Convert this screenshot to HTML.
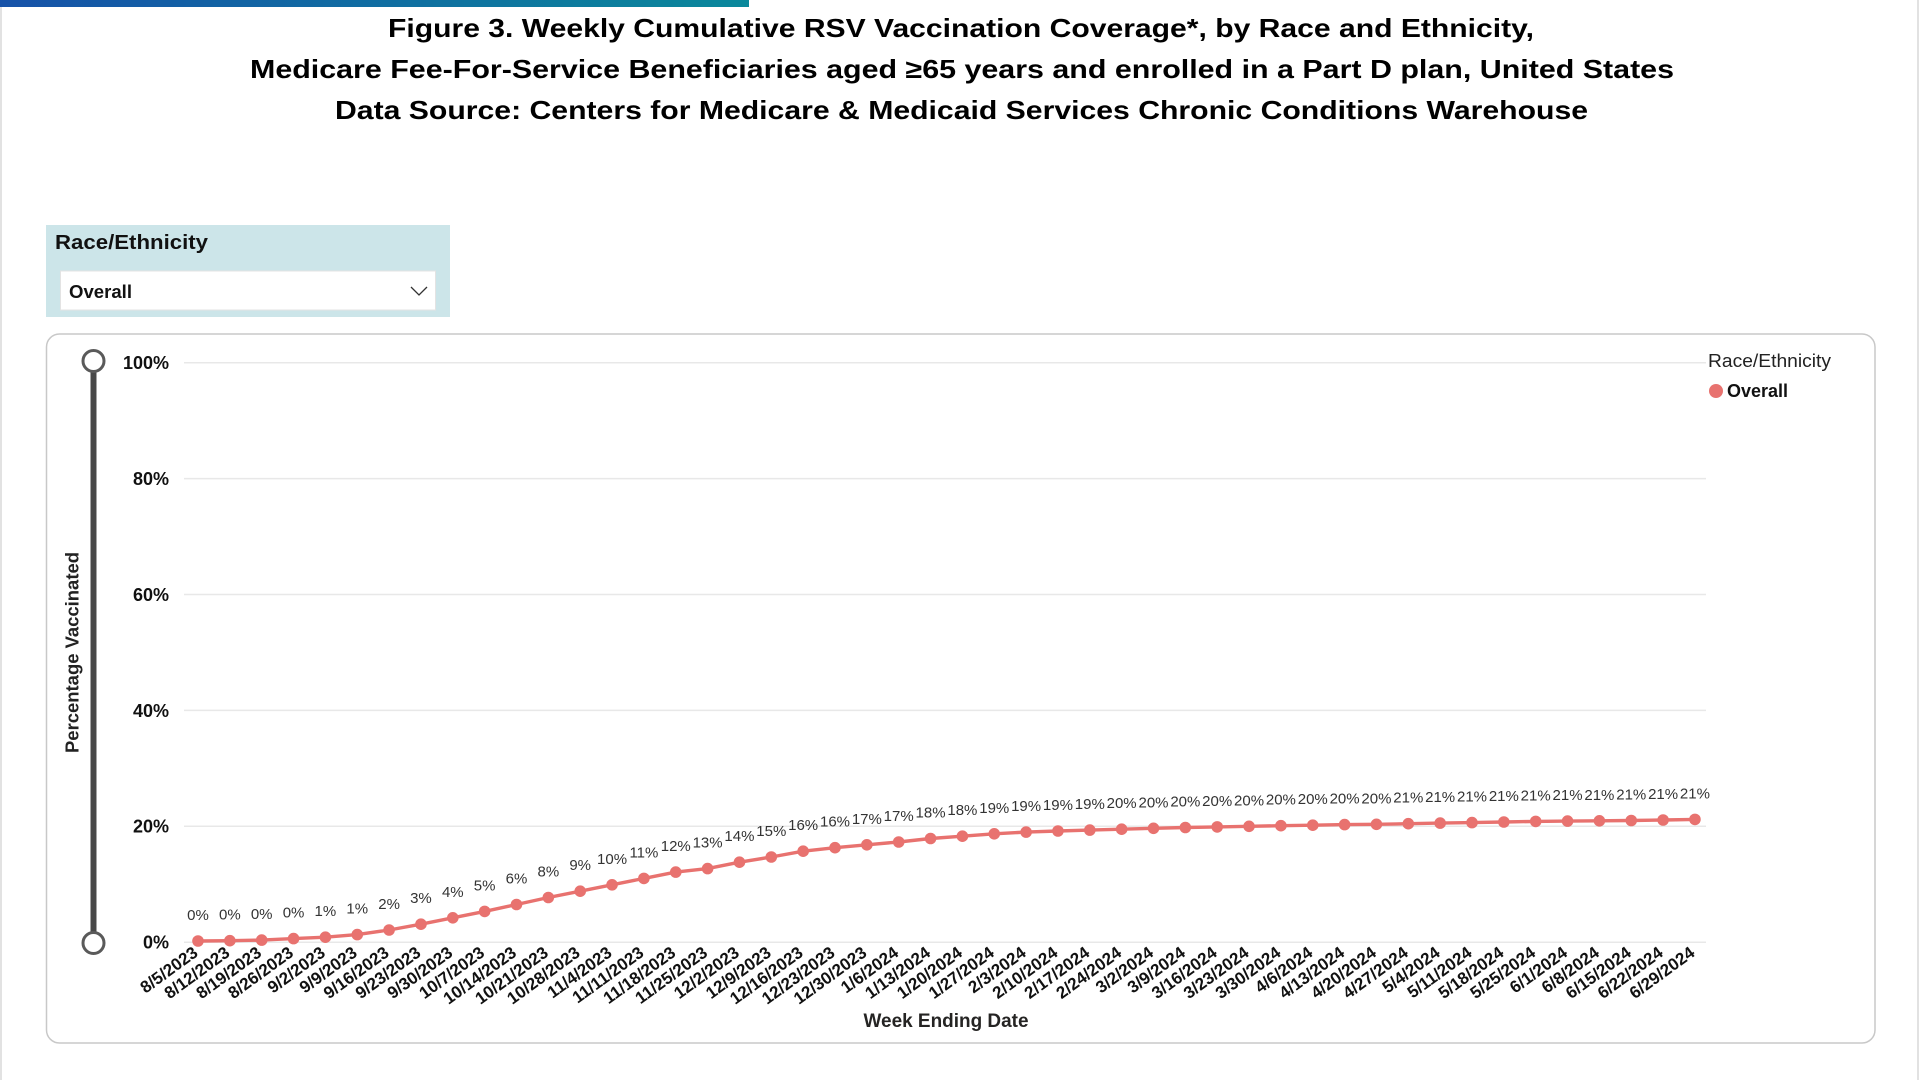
<!DOCTYPE html>
<html>
<head>
<meta charset="utf-8">
<style>
html,body{margin:0;padding:0;background:#fff;}
body{width:1920px;height:1080px;overflow:hidden;}
svg{display:block;font-family:"Liberation Sans",Arial,sans-serif;}
.dl{font-size:15px;fill:#333;text-anchor:middle;}
.xl{font-size:17px;font-weight:bold;fill:#111;text-anchor:end;}
.yl{font-size:18px;font-weight:bold;fill:#111;text-anchor:end;}
.tt{font-size:26px;font-weight:bold;fill:#000;text-anchor:middle;}
</style>
</head>
<body>
<svg width="1920" height="1080" viewBox="0 0 1920 1080" xmlns="http://www.w3.org/2000/svg">
<defs>
<linearGradient id="bar" x1="0" y1="0" x2="1" y2="0">
<stop offset="0" stop-color="#1652a8"/>
<stop offset="1" stop-color="#0a889b"/>
</linearGradient>
</defs>
<rect x="0" y="0" width="1920" height="1080" fill="#fff"/>
<rect x="0" y="0" width="749" height="7" fill="url(#bar)"/>
<line x1="1" y1="7" x2="1" y2="1080" stroke="#d8d8d8" stroke-width="1.5"/>
<line x1="1918" y1="0" x2="1918" y2="1080" stroke="#d8d8d8" stroke-width="1.5"/>

<text class="tt" x="961" y="37" textLength="1146" lengthAdjust="spacingAndGlyphs">Figure 3. Weekly Cumulative RSV Vaccination Coverage*, by Race and Ethnicity,</text>
<text class="tt" x="962" y="78" textLength="1424" lengthAdjust="spacingAndGlyphs">Medicare Fee-For-Service Beneficiaries aged ≥65 years and enrolled in a Part D plan, United States</text>
<text class="tt" x="961.5" y="119" textLength="1253" lengthAdjust="spacingAndGlyphs">Data Source: Centers for Medicare &amp; Medicaid Services Chronic Conditions Warehouse</text>

<rect x="46" y="225" width="404" height="92" fill="#cce5e9"/>
<text x="55" y="249" font-size="20" font-weight="bold" fill="#111" textLength="153" lengthAdjust="spacingAndGlyphs">Race/Ethnicity</text>
<rect x="60.5" y="271" width="375" height="39" fill="#fff" stroke="#e3e3e3" stroke-width="1"/>
<text x="69" y="298" font-size="18" font-weight="bold" fill="#111" textLength="63" lengthAdjust="spacingAndGlyphs">Overall</text>
<polyline points="411,287 419,295 427,287" fill="none" stroke="#333" stroke-width="1.3"/>

<rect x="46.5" y="334" width="1828.5" height="709" rx="13" ry="13" fill="#fff" stroke="#c8c8c8" stroke-width="1.5"/>

<g stroke="#e8e8e8" stroke-width="1.5">
<line x1="184" y1="362.7" x2="1706" y2="362.7"/>
<line x1="184" y1="478.6" x2="1706" y2="478.6"/>
<line x1="184" y1="594.5" x2="1706" y2="594.5"/>
<line x1="184" y1="710.4" x2="1706" y2="710.4"/>
<line x1="184" y1="826.3" x2="1706" y2="826.3"/>
<line x1="184" y1="942.2" x2="1706" y2="942.2"/>
</g>

<text class="yl" x="169" y="369">100%</text>
<text class="yl" x="169" y="485">80%</text>
<text class="yl" x="169" y="601">60%</text>
<text class="yl" x="169" y="717">40%</text>
<text class="yl" x="169" y="832.5">20%</text>
<text class="yl" x="169" y="948.5">0%</text>

<line x1="93.5" y1="368" x2="93.5" y2="936" stroke="#484848" stroke-width="6"/>
<circle cx="93.5" cy="361" r="10.5" fill="#fff" stroke="#5a5a5a" stroke-width="3"/>
<circle cx="93.5" cy="943" r="10.5" fill="#fff" stroke="#5a5a5a" stroke-width="3"/>

<text transform="translate(78.5,652.5) rotate(-90)" text-anchor="middle" font-size="18" font-weight="bold" fill="#222" textLength="201" lengthAdjust="spacingAndGlyphs">Percentage Vaccinated</text>

<text x="946" y="1027" text-anchor="middle" font-size="19" font-weight="bold" fill="#252423" textLength="165" lengthAdjust="spacingAndGlyphs">Week Ending Date</text>

<text x="1708" y="367" font-size="18" fill="#222" textLength="123" lengthAdjust="spacingAndGlyphs">Race/Ethnicity</text>
<circle cx="1716" cy="391" r="7" fill="#e8726f"/>
<text x="1727" y="397" font-size="18" font-weight="bold" fill="#111" textLength="61" lengthAdjust="spacingAndGlyphs">Overall</text>

<polyline fill="none" stroke="#e8726f" stroke-width="3.4" stroke-linejoin="round" points="198,941 229.85,940.7 261.7,940.1 293.55,938.6 325.4,937.2 357.25,934.6 389.1,930 420.95,924.2 452.8,917.8 484.65,911.4 516.5,904.5 548.35,897.5 580.2,891.2 612.05,884.8 643.9,878.4 675.75,872.1 707.6,868.6 739.45,862.2 771.3,857 803.15,851.2 835,847.7 866.85,844.8 898.7,842 930.55,838.5 962.4,836.2 994.25,833.8 1026.1,832.1 1057.95,831 1089.8,830.1 1121.65,829.2 1153.5,828.3 1185.35,827.5 1217.2,826.9 1249.05,826.3 1280.9,825.7 1312.75,825.2 1344.6,824.6 1376.45,824.3 1408.3,823.7 1440.15,823.1 1472,822.6 1503.85,822 1535.7,821.4 1567.55,821.1 1599.4,820.8 1631.25,820.5 1663.1,820 1694.95,819.4"/>

<g fill="#e8726f">
<circle cx="198" cy="941" r="5.8"/>
<circle cx="229.85" cy="940.7" r="5.8"/>
<circle cx="261.7" cy="940.1" r="5.8"/>
<circle cx="293.55" cy="938.6" r="5.8"/>
<circle cx="325.4" cy="937.2" r="5.8"/>
<circle cx="357.25" cy="934.6" r="5.8"/>
<circle cx="389.1" cy="930" r="5.8"/>
<circle cx="420.95" cy="924.2" r="5.8"/>
<circle cx="452.8" cy="917.8" r="5.8"/>
<circle cx="484.65" cy="911.4" r="5.8"/>
<circle cx="516.5" cy="904.5" r="5.8"/>
<circle cx="548.35" cy="897.5" r="5.8"/>
<circle cx="580.2" cy="891.2" r="5.8"/>
<circle cx="612.05" cy="884.8" r="5.8"/>
<circle cx="643.9" cy="878.4" r="5.8"/>
<circle cx="675.75" cy="872.1" r="5.8"/>
<circle cx="707.6" cy="868.6" r="5.8"/>
<circle cx="739.45" cy="862.2" r="5.8"/>
<circle cx="771.3" cy="857" r="5.8"/>
<circle cx="803.15" cy="851.2" r="5.8"/>
<circle cx="835" cy="847.7" r="5.8"/>
<circle cx="866.85" cy="844.8" r="5.8"/>
<circle cx="898.7" cy="842" r="5.8"/>
<circle cx="930.55" cy="838.5" r="5.8"/>
<circle cx="962.4" cy="836.2" r="5.8"/>
<circle cx="994.25" cy="833.8" r="5.8"/>
<circle cx="1026.1" cy="832.1" r="5.8"/>
<circle cx="1057.95" cy="831" r="5.8"/>
<circle cx="1089.8" cy="830.1" r="5.8"/>
<circle cx="1121.65" cy="829.2" r="5.8"/>
<circle cx="1153.5" cy="828.3" r="5.8"/>
<circle cx="1185.35" cy="827.5" r="5.8"/>
<circle cx="1217.2" cy="826.9" r="5.8"/>
<circle cx="1249.05" cy="826.3" r="5.8"/>
<circle cx="1280.9" cy="825.7" r="5.8"/>
<circle cx="1312.75" cy="825.2" r="5.8"/>
<circle cx="1344.6" cy="824.6" r="5.8"/>
<circle cx="1376.45" cy="824.3" r="5.8"/>
<circle cx="1408.3" cy="823.7" r="5.8"/>
<circle cx="1440.15" cy="823.1" r="5.8"/>
<circle cx="1472" cy="822.6" r="5.8"/>
<circle cx="1503.85" cy="822" r="5.8"/>
<circle cx="1535.7" cy="821.4" r="5.8"/>
<circle cx="1567.55" cy="821.1" r="5.8"/>
<circle cx="1599.4" cy="820.8" r="5.8"/>
<circle cx="1631.25" cy="820.5" r="5.8"/>
<circle cx="1663.1" cy="820" r="5.8"/>
<circle cx="1694.95" cy="819.4" r="5.8"/>
</g>

<text class="dl" x="198" y="920">0%</text>
<text class="dl" x="229.85" y="919.7">0%</text>
<text class="dl" x="261.7" y="919.1">0%</text>
<text class="dl" x="293.55" y="917.6">0%</text>
<text class="dl" x="325.4" y="916.2">1%</text>
<text class="dl" x="357.25" y="913.6">1%</text>
<text class="dl" x="389.1" y="909">2%</text>
<text class="dl" x="420.95" y="903.2">3%</text>
<text class="dl" x="452.8" y="896.8">4%</text>
<text class="dl" x="484.65" y="890.4">5%</text>
<text class="dl" x="516.5" y="883.5">6%</text>
<text class="dl" x="548.35" y="876.5">8%</text>
<text class="dl" x="580.2" y="870.2">9%</text>
<text class="dl" x="612.05" y="863.8">10%</text>
<text class="dl" x="643.9" y="857.4">11%</text>
<text class="dl" x="675.75" y="851.1">12%</text>
<text class="dl" x="707.6" y="847.6">13%</text>
<text class="dl" x="739.45" y="841.2">14%</text>
<text class="dl" x="771.3" y="836">15%</text>
<text class="dl" x="803.15" y="830.2">16%</text>
<text class="dl" x="835" y="826.7">16%</text>
<text class="dl" x="866.85" y="823.8">17%</text>
<text class="dl" x="898.7" y="821">17%</text>
<text class="dl" x="930.55" y="817.5">18%</text>
<text class="dl" x="962.4" y="815.2">18%</text>
<text class="dl" x="994.25" y="812.8">19%</text>
<text class="dl" x="1026.1" y="811.1">19%</text>
<text class="dl" x="1057.95" y="810">19%</text>
<text class="dl" x="1089.8" y="809.1">19%</text>
<text class="dl" x="1121.65" y="808.2">20%</text>
<text class="dl" x="1153.5" y="807.3">20%</text>
<text class="dl" x="1185.35" y="806.5">20%</text>
<text class="dl" x="1217.2" y="805.9">20%</text>
<text class="dl" x="1249.05" y="805.3">20%</text>
<text class="dl" x="1280.9" y="804.7">20%</text>
<text class="dl" x="1312.75" y="804.2">20%</text>
<text class="dl" x="1344.6" y="803.6">20%</text>
<text class="dl" x="1376.45" y="803.3">20%</text>
<text class="dl" x="1408.3" y="802.7">21%</text>
<text class="dl" x="1440.15" y="802.1">21%</text>
<text class="dl" x="1472" y="801.6">21%</text>
<text class="dl" x="1503.85" y="801">21%</text>
<text class="dl" x="1535.7" y="800.4">21%</text>
<text class="dl" x="1567.55" y="800.1">21%</text>
<text class="dl" x="1599.4" y="799.8">21%</text>
<text class="dl" x="1631.25" y="799.5">21%</text>
<text class="dl" x="1663.1" y="799">21%</text>
<text class="dl" x="1694.95" y="798.4">21%</text>

<g>
<text class="xl" transform="translate(199,955) rotate(-36)">8/5/2023</text>
<text class="xl" transform="translate(230.85,955) rotate(-36)">8/12/2023</text>
<text class="xl" transform="translate(262.7,955) rotate(-36)">8/19/2023</text>
<text class="xl" transform="translate(294.55,955) rotate(-36)">8/26/2023</text>
<text class="xl" transform="translate(326.4,955) rotate(-36)">9/2/2023</text>
<text class="xl" transform="translate(358.25,955) rotate(-36)">9/9/2023</text>
<text class="xl" transform="translate(390.1,955) rotate(-36)">9/16/2023</text>
<text class="xl" transform="translate(421.95,955) rotate(-36)">9/23/2023</text>
<text class="xl" transform="translate(453.8,955) rotate(-36)">9/30/2023</text>
<text class="xl" transform="translate(485.65,955) rotate(-36)">10/7/2023</text>
<text class="xl" transform="translate(517.5,955) rotate(-36)">10/14/2023</text>
<text class="xl" transform="translate(549.35,955) rotate(-36)">10/21/2023</text>
<text class="xl" transform="translate(581.2,955) rotate(-36)">10/28/2023</text>
<text class="xl" transform="translate(613.05,955) rotate(-36)">11/4/2023</text>
<text class="xl" transform="translate(644.9,955) rotate(-36)">11/11/2023</text>
<text class="xl" transform="translate(676.75,955) rotate(-36)">11/18/2023</text>
<text class="xl" transform="translate(708.6,955) rotate(-36)">11/25/2023</text>
<text class="xl" transform="translate(740.45,955) rotate(-36)">12/2/2023</text>
<text class="xl" transform="translate(772.3,955) rotate(-36)">12/9/2023</text>
<text class="xl" transform="translate(804.15,955) rotate(-36)">12/16/2023</text>
<text class="xl" transform="translate(836,955) rotate(-36)">12/23/2023</text>
<text class="xl" transform="translate(867.85,955) rotate(-36)">12/30/2023</text>
<text class="xl" transform="translate(899.7,955) rotate(-36)">1/6/2024</text>
<text class="xl" transform="translate(931.55,955) rotate(-36)">1/13/2024</text>
<text class="xl" transform="translate(963.4,955) rotate(-36)">1/20/2024</text>
<text class="xl" transform="translate(995.25,955) rotate(-36)">1/27/2024</text>
<text class="xl" transform="translate(1027.1,955) rotate(-36)">2/3/2024</text>
<text class="xl" transform="translate(1058.95,955) rotate(-36)">2/10/2024</text>
<text class="xl" transform="translate(1090.8,955) rotate(-36)">2/17/2024</text>
<text class="xl" transform="translate(1122.65,955) rotate(-36)">2/24/2024</text>
<text class="xl" transform="translate(1154.5,955) rotate(-36)">3/2/2024</text>
<text class="xl" transform="translate(1186.35,955) rotate(-36)">3/9/2024</text>
<text class="xl" transform="translate(1218.2,955) rotate(-36)">3/16/2024</text>
<text class="xl" transform="translate(1250.05,955) rotate(-36)">3/23/2024</text>
<text class="xl" transform="translate(1281.9,955) rotate(-36)">3/30/2024</text>
<text class="xl" transform="translate(1313.75,955) rotate(-36)">4/6/2024</text>
<text class="xl" transform="translate(1345.6,955) rotate(-36)">4/13/2024</text>
<text class="xl" transform="translate(1377.45,955) rotate(-36)">4/20/2024</text>
<text class="xl" transform="translate(1409.3,955) rotate(-36)">4/27/2024</text>
<text class="xl" transform="translate(1441.15,955) rotate(-36)">5/4/2024</text>
<text class="xl" transform="translate(1473,955) rotate(-36)">5/11/2024</text>
<text class="xl" transform="translate(1504.85,955) rotate(-36)">5/18/2024</text>
<text class="xl" transform="translate(1536.7,955) rotate(-36)">5/25/2024</text>
<text class="xl" transform="translate(1568.55,955) rotate(-36)">6/1/2024</text>
<text class="xl" transform="translate(1600.4,955) rotate(-36)">6/8/2024</text>
<text class="xl" transform="translate(1632.25,955) rotate(-36)">6/15/2024</text>
<text class="xl" transform="translate(1664.1,955) rotate(-36)">6/22/2024</text>
<text class="xl" transform="translate(1695.95,955) rotate(-36)">6/29/2024</text>
</g>
</svg>
</body>
</html>
